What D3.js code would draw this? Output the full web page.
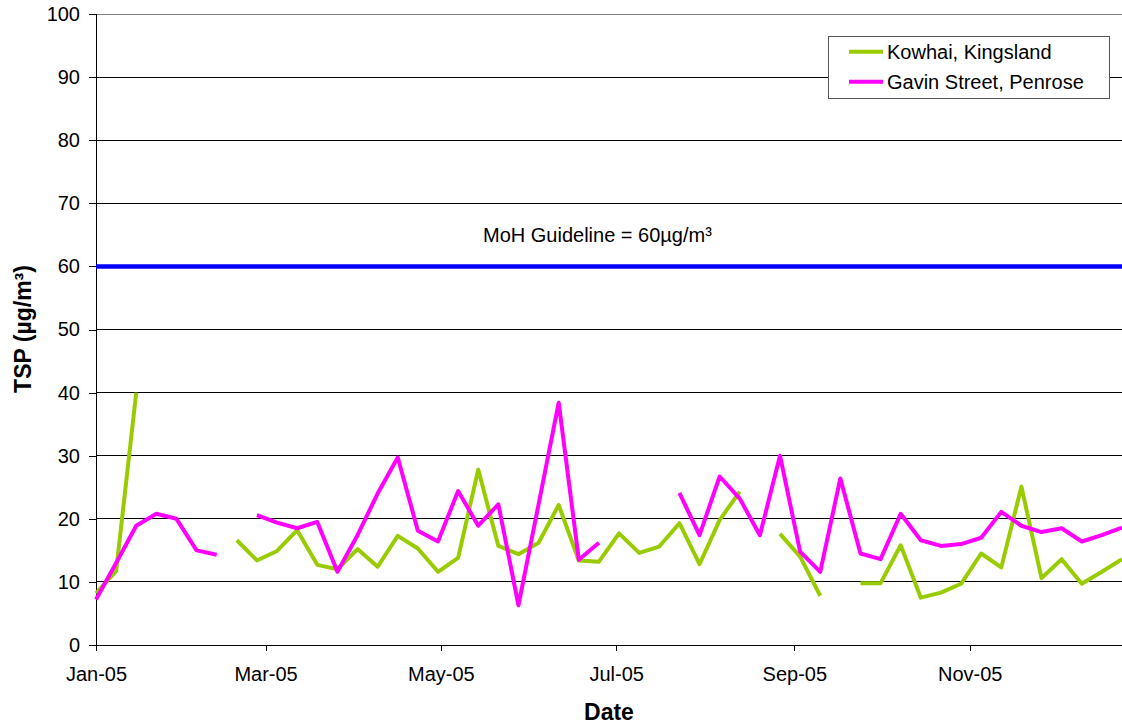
<!DOCTYPE html>
<html>
<head>
<meta charset="utf-8">
<script src="https://cdn.jsdelivr.net/npm/d3@7"></script>
<style>
  body { margin: 0; background: #fff; }
  text { font-family: "Liberation Sans", Arial, sans-serif; }
</style>
</head>
<body>
<div id="chart"></div>
<script>
// weekly sample dates
const dates = [
  "2005-01-01","2005-01-08","2005-01-15","2005-01-22","2005-01-29","2005-02-05","2005-02-12","2005-02-19",
  "2005-02-26","2005-03-05","2005-03-12","2005-03-19","2005-03-26","2005-04-02","2005-04-09","2005-04-16",
  "2005-04-23","2005-04-30","2005-05-07","2005-05-14","2005-05-21","2005-05-28","2005-06-04","2005-06-11",
  "2005-06-18","2005-06-25","2005-07-02","2005-07-09","2005-07-16","2005-07-23","2005-07-30","2005-08-06",
  "2005-08-13","2005-08-20","2005-08-27","2005-09-03","2005-09-10","2005-09-17","2005-09-24","2005-10-01",
  "2005-10-08","2005-10-15","2005-10-22","2005-10-29","2005-11-05","2005-11-12","2005-11-19","2005-11-26",
  "2005-12-03","2005-12-10","2005-12-17","2005-12-24"
];
const kowhai = [
  8.2, 11.7, 40.0, null, null, null, null, 16.6,
  13.4, 14.9, 18.2, 12.7, 12.0, 15.2, 12.4, 17.3,
  15.3, 11.6, 13.8, 27.8, 15.7, 14.4, 16.2, 22.2,
  13.4, 13.2, 17.7, 14.6, 15.6, 19.3, 12.8, 19.8,
  24.3, null, 17.6, 14.0, 7.8, null, 9.8, 9.8,
  15.8, 7.5, 8.3, 9.7, 14.5, 12.3, 25.1, 10.6,
  13.6, 9.7, 11.6, 13.6
];
const gavin = [
  7.2, 13.0, 18.9, 20.8, 20.0, 15.0, 14.3, null,
  20.6, 19.4, 18.5, 19.5, 11.6, 17.4, 24.0, 29.7,
  18.1, 16.4, 24.4, 18.9, 22.3, 6.3, 22.3, 38.4,
  13.5, 16.2, null, null, null, 24.1, 17.4, 26.7,
  23.2, 17.4, 30.0, 14.8, 11.6, 26.4, 14.5, 13.6,
  20.8, 16.6, 15.7, 16.0, 17.0, 21.1, 18.9, 17.9,
  18.5, 16.4, 17.4, 18.6
];
const seriesNames = ["Kowhai, Kingsland", "Gavin Street, Penrose"];
const seriesColors = ["#99CC00", "#FF00FF"];
const xTicks = ["2005-01-01","2005-03-01","2005-05-01","2005-07-01","2005-09-01","2005-11-01"];
const yTicks = [0, 10, 20, 30, 40, 50, 60, 70, 80, 90, 100];
const guideline = 60;

const W = 1122, H = 727;
const plot = { left: 96, right: 1122, top: 14, bottom: 645 };
const parse = d3.timeParse("%Y-%m-%d");

const svg = d3.select("#chart").append("svg")
  .attr("width", W).attr("height", H);

const x = d3.scaleTime()
  .domain([parse("2005-01-01"), parse("2005-12-24")])
  .range([plot.left, plot.right]);
const y = d3.scaleLinear().domain([0, 100]).range([plot.bottom, plot.top]);

// gridlines
svg.append("g").selectAll("line")
  .data(yTicks.filter(d => d > 0))
  .join("line")
  .attr("x1", plot.left).attr("x2", plot.right)
  .attr("y1", d => y(d)).attr("y2", d => y(d))
  .attr("stroke", d => d == 100 ? "#808080" : "#000")
  .attr("stroke-width", 1)
  .attr("shape-rendering", "crispEdges");

// y axis
const yAxis = svg.append("g")
  .attr("transform", `translate(${plot.left},0)`)
  .call(d3.axisLeft(y).tickValues(yTicks).tickSize(7).tickPadding(9));
yAxis.selectAll("text").attr("font-size", 20).attr("fill", "#000")
  .style("font-family", '"Liberation Sans", Arial, sans-serif');
yAxis.selectAll("line, path").attr("stroke", "#000").attr("shape-rendering", "crispEdges");

// x axis
const xAxis = svg.append("g")
  .attr("transform", `translate(0,${plot.bottom})`)
  .call(d3.axisBottom(x).tickValues(xTicks.map(parse)).tickFormat(d3.timeFormat("%b-%y")).tickSize(6).tickPadding(16));
xAxis.selectAll("text").attr("font-size", 20).attr("fill", "#000")
  .style("font-family", '"Liberation Sans", Arial, sans-serif');
xAxis.selectAll("line, path").attr("stroke", "#000").attr("shape-rendering", "crispEdges");
xAxis.select(".domain").attr("d", `M${plot.left},0H${plot.right}`);

// guideline
svg.append("line")
  .attr("x1", plot.left).attr("x2", plot.right)
  .attr("y1", y(guideline)).attr("y2", y(guideline))
  .attr("stroke", "#0000FF").attr("stroke-width", 4.5);
svg.append("text")
  .attr("x", 483).attr("y", 241.5)
  .attr("font-size", 20)
  .text("MoH Guideline = 60µg/m³");

// series
const line = d3.line()
  .defined(d => d.v != null)
  .x(d => x(d.t)).y(d => y(d.v));
[kowhai, gavin].forEach((vals, i) => {
  const pts = dates.map((d, j) => ({ t: parse(d), v: vals[j] }));
  svg.append("path")
    .datum(pts)
    .attr("fill", "none")
    .attr("stroke", seriesColors[i])
    .attr("stroke-width", 4)
    .attr("stroke-linejoin", "round")
    .attr("d", line);
});

// legend
const lg = svg.append("g");
lg.append("rect")
  .attr("x", 828.5).attr("y", 36.5).attr("width", 281).attr("height", 62)
  .attr("fill", "#fff").attr("stroke", "#555").attr("stroke-width", 1);
seriesNames.forEach((name, i) => {
  const yy = 51.7 + i * 30;
  lg.append("line")
    .attr("x1", 849).attr("x2", 883).attr("y1", yy).attr("y2", yy)
    .attr("stroke", seriesColors[i]).attr("stroke-width", 4);
  lg.append("text")
    .attr("x", 887).attr("y", yy + 7)
    .attr("font-size", 20)
    .text(name);
});

// axis titles
svg.append("text")
  .attr("x", (plot.left + plot.right) / 2).attr("y", 720)
  .attr("text-anchor", "middle")
  .attr("font-size", 23).attr("font-weight", "bold")
  .text("Date");
svg.append("text")
  .attr("transform", `translate(31,329) rotate(-90)`)
  .attr("text-anchor", "middle")
  .attr("font-size", 23).attr("font-weight", "bold")
  .text("TSP (µg/m³)");
</script>
</body>
</html>
